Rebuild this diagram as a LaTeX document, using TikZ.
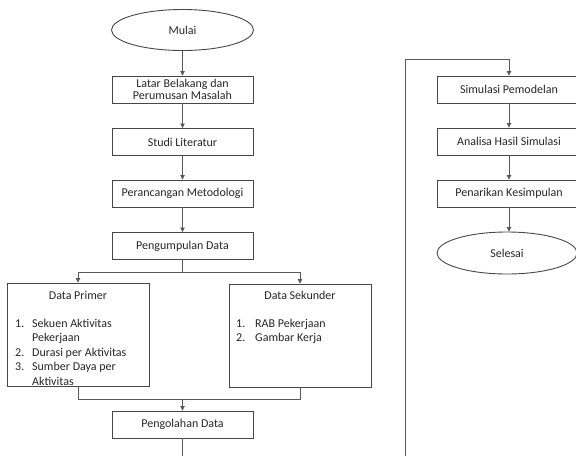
\documentclass[tikz,border=0pt]{standalone}
\usepackage{fontspec}
\setmainfont{Carlito}
\usetikzlibrary{shapes.geometric,arrows.meta}
\begin{document}
\begin{tikzpicture}[x=1pt,y=-1pt,
  txt/.style={font=\fontsize{12}{14.5}\selectfont,text=black!85},
  box/.style={draw=black!72,line width=0.9pt,minimum width=141pt,minimum height=27pt,inner sep=0pt,align=center,txt},
  bigbox/.style={draw=black!72,line width=0.9pt,minimum width=142pt,minimum height=103pt,inner sep=0pt},
  term/.style={ellipse,draw=black!72,line width=0.9pt,minimum width=142pt,minimum height=41pt,inner sep=0pt,txt},
  conn/.style={draw=black!65,line width=0.8pt},
  arr/.style={conn,-{Triangle[length=4.5pt,width=4.5pt]}}]
\useasboundingbox (0,0) rectangle (576,456);
\clip (0,0) rectangle (576,456);
% left column
\node[term] (mulai) at (182.5,30) {Mulai};
\node[box] (latar) at (182.5,89.5) {Latar Belakang dan\\[-3pt]Perumusan Masalah};
\node[box] (studi) at (182.5,142) {Studi Literatur};
\node[box] (metod) at (182.5,193.5) {Perancangan Metodologi};
\node[box] (kumpul) at (182.5,246) {Pengumpulan Data};
\node[bigbox] (primer) at (78,334.5) {};
\node[txt,anchor=base,inner sep=0pt] (primerT) at (78,299) {Data Primer};
\node[txt,anchor=base west,inner sep=0pt] (primerL) at (15,327) {\begin{tabular}[t]{@{}p{17pt}@{}l@{}}
1. & Sekuen Aktivitas\\
   & Pekerjaan\\
2. & Durasi per Aktivitas\\
3. & Sumber Daya per\\
   & Aktivitas
\end{tabular}};
\node[bigbox] (sekunder) at (300,335.5) {};
\node[txt,anchor=base,inner sep=0pt] (sekunderT) at (300,299) {Data Sekunder};
\node[txt,anchor=base west,inner sep=0pt] (sekunderL) at (236,327) {\begin{tabular}[t]{@{}p{19pt}@{}l@{}}
1. & RAB Pekerjaan\\
2. & Gambar Kerja
\end{tabular}};
\node[box] (olah) at (182.5,424.5) {Pengolahan Data};
% right column
\node[box,minimum width=144pt] (simul) at (509,89.5) {Simulasi Pemodelan};
\node[box,minimum width=144pt] (analisa) at (509,141.5) {Analisa Hasil Simulasi};
\node[box,minimum width=144pt] (tarik) at (509,193.5) {Penarikan Kesimpulan};
\node[term,minimum width=140pt,minimum height=42pt] (selesai) at (507,253) {Selesai};
% connectors
\draw[arr] (mulai.south) -- (latar.north);
\draw[arr] (latar.south) -- (studi.north);
\draw[arr] (studi.south) -- (metod.north);
\draw[arr] (metod.south) -- (kumpul.north);
\coordinate (split) at (182.5,272);
\coordinate (join) at (182.5,399);
\draw[conn] (kumpul.south) -- (split);
\draw[arr] (split) -| (primer.north);
\draw[arr] (split) -| (sekunder.north);
\draw[conn] (primer.south) |- (join);
\draw[conn] (sekunder.south) |- (join);
\draw[arr] (join) -- (olah.north);
\coordinate (endL) at (182.5,456);
\draw[conn] (olah.south) -- (endL);
\coordinate (endR) at (405,456);
\coordinate (topR) at (405,59);
\draw[arr] (endR) -- (topR) -| (simul.north);
\draw[arr] (simul.south) -- (analisa.north);
\draw[arr] (analisa.south) -- (tarik.north);
\draw[arr] (tarik.south) -- (tarik.south |- selesai.north);
\end{tikzpicture}
\end{document}
